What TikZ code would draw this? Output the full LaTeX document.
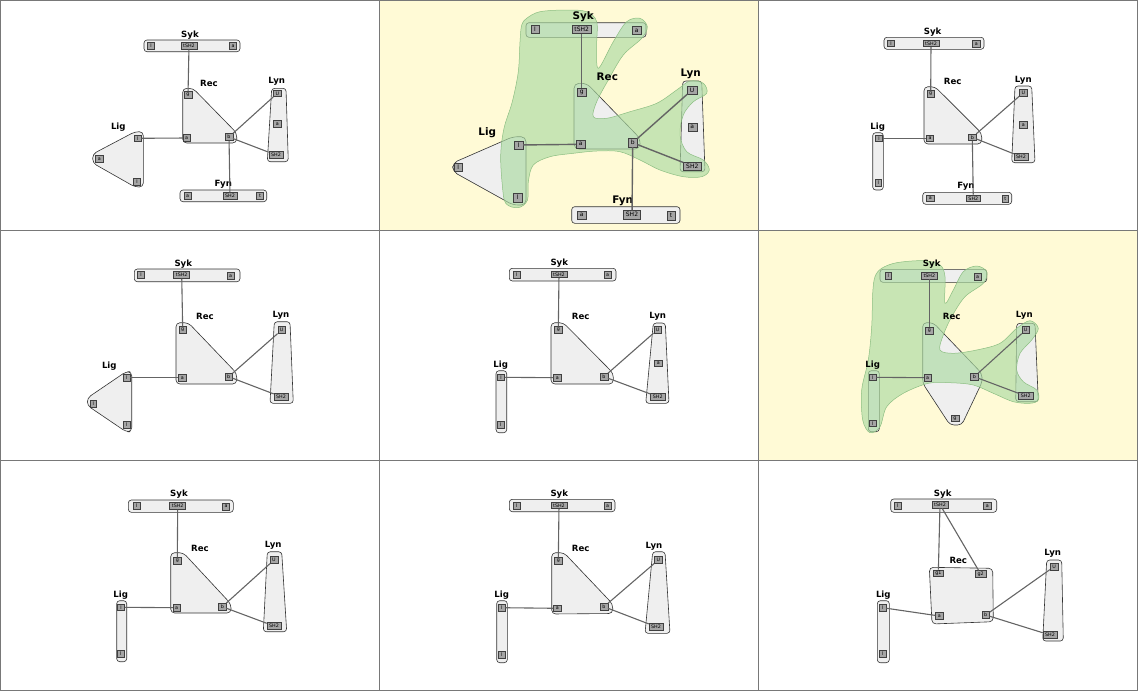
\documentclass[tikz,border=0pt]{standalone}
\usepackage{fontspec}
\setmainfont{DejaVu Sans}
\definecolor{cream}{RGB}{255,250,214}
\definecolor{blobc}{RGB}{171,219,162}
\definecolor{blobl}{RGB}{140,190,130}
\definecolor{molf}{RGB}{239,239,239}
\definecolor{sitef}{RGB}{165,165,165}
\definecolor{gridc}{RGB}{120,120,120}
\definecolor{bondc}{RGB}{100,100,100}
\tikzset{
 mol/.style={draw=black!80, fill=molf, line width=0.6pt, rounded corners=3pt, line join=round},
 site/.style={draw=black!75, fill=sitef, line width=0.45pt, font=\fontsize{4.8}{5}\selectfont, inner xsep=2.2pt, inner ysep=0.8pt, minimum height=6.8pt, minimum width=6.8pt},
 bsite/.style={site, font=\fontsize{6}{6}\selectfont, inner xsep=2.6pt, minimum height=8.2pt, minimum width=8.2pt},
 lbl/.style={font=\fontsize{8.6}{9}\selectfont\bfseries, inner sep=0pt},
 blbl/.style={font=\fontsize{10.4}{11}\selectfont\bfseries, inner sep=0pt},
 bond/.style={draw=bondc, line width=1.1pt},
 bbond/.style={draw=bondc, line width=1.4pt},
 blob/.style={fill=blobc, fill opacity=0.65, draw=blobl, line width=0.5pt},
}
\begin{document}
\begin{tikzpicture}[x=1pt,y=-1pt]
\useasboundingbox (0,0) rectangle (1138,691);
\fill[cream] (379,0) rectangle (758,230);
\fill[cream] (758,230) rectangle (1138,460);
\draw[gridc, line width=1pt] (379,0) -- (379,691) (758,0) -- (758,691) (0,230) -- (1138,230) (0,460) -- (1138,460);
\draw[gridc, line width=1pt] (0.5,0.5) rectangle (1137.5,690.5);

% ---------------- Panel 1 ----------------
\draw[mol] (144,40) rectangle (240,51.7);
\node[lbl] (a1syk) at (190,35) {Syk};
\node[site] (a1sl) at (151,45.8) {l};
\node[site] (a1st) at (189,45.8) {tSH2};
\node[site] (a1sa) at (233,45.8) {a};
\draw[mol, rounded corners=4pt] (182.7,88.3) -- (193,88.3) -- (236.7,133) -- (236.7,143) -- (182.7,143) -- cycle;
\node[lbl] (a1rec) at (209,83) {Rec};
\node[site] (a1rg) at (188,95) {g};
\node[site] (a1ra) at (186.7,138) {a};
\node[site] (a1rb) at (229,137) {b};
\draw[mol] (271.7,88.3) -- (286,88.3) -- (288.3,161.7) -- (267.3,161.7) -- cycle;
\node[lbl] (a1lyn) at (276.7,81.7) {Lyn};
\node[site] (a1yu) at (277.3,93.3) {U};
\node[site] (a1ya) at (277.3,124) {a};
\node[site] (a1ys) at (276,155) {SH2};
\draw[mol, rounded corners=4pt] (135,131.7) -- (143.3,131.7) -- (143.3,187) -- (135,187) -- (92.7,163) -- (92.7,154) -- cycle;
\node[lbl] (a1lig) at (118.3,126.7) {Lig};
\node[site] (a1l1) at (137.7,138.3) {l};
\node[site] (a1l2) at (99.3,159) {a};
\node[site] (a1l3) at (137,181.7) {l};
\draw[mol] (180,190) rectangle (266.7,201.7);
\node[site] (a1fa) at (187.7,196) {a};
\node[site] (a1fs) at (230,196) {SH2};
\node[site] (a1ft) at (260,196) {t};
\node[lbl] (a1fyn) at (223.3,184.3) {Fyn};
\draw[bond] (a1st) -- (a1rg);
\draw[bond] (a1l1) -- (a1ra);
\draw[bond] (a1rb) -- (a1yu);
\draw[bond] (a1rb) -- (a1ys);
\draw[bond] (a1rb) -- (a1fs);

% ---------------- Panel 2 ----------------
\draw[mol] (526,22.7) rectangle (646,37.3);
\draw[mol, rounded corners=5pt] (574,83.3) -- (586.7,83.3) -- (640,138.3) -- (640,149) -- (574,149) -- cycle;
\draw[mol] (682.7,81) -- (701.7,81) -- (705,171.7) -- (680,171.7) -- cycle;
\draw[mol, rounded corners=5pt] (513,136.7) -- (526,136.7) -- (526,205) -- (513,205) -- (452.7,171.5) -- (452.7,163) -- cycle;
\draw[mol] (571.7,206.7) rectangle (680,223.3);
\draw[blob] plot[smooth cycle, tension=0.55] coordinates {
 (526.7,18.3) (540,11.7) (566.7,10) (586.7,11.7) (596.7,21.7) (596.7,45) (598.3,68.3)
 (613.3,41.7) (626.7,21.7) (640,18.3) (647.3,26.7) (641.7,38.3) (623.3,55) (608.3,80)
 (596.7,101.7) (593.3,116.7) (606.7,118.3) (630,111.7) (656.7,103.3) (676.7,90) (690,81)
 (703.3,83.3) (706.7,93.3) (693.3,101.7) (683.3,115) (680,135) (686.7,151.7) (703.3,160)
 (709.3,170) (701.7,176.7) (683.3,176.7) (660,170) (640,160) (620,151.7) (596.7,151)
 (573.3,153.3) (550,156.7) (533.3,165) (528.3,181.7) (527.5,200) (518.3,207.7) (505.7,203.3)
 (502.3,185) (500.7,155) (504,128.3) (512.3,101.7) (518.3,71.7) (520,41.7) (521.7,25)};
\node[bsite] (a2sl) at (535,29.5) {l};
\node[bsite] (a2st) at (581.7,29.5) {tSH2};
\node[bsite] (a2sa) at (636.7,30.5) {a};
\node[bsite] (a2rg) at (581.7,92.3) {g};
\node[bsite] (a2ra) at (580.7,144.3) {a};
\node[bsite] (a2rb) at (632.7,142.7) {b};
\node[bsite] (a2yu) at (692,90) {U};
\node[bsite] (a2ya) at (692.3,127.3) {a};
\node[bsite] (a2ys) at (692.3,166) {SH2};
\node[bsite] (a2l1) at (518.7,145) {l};
\node[bsite] (a2l2) at (458.3,167.3) {l};
\node[bsite] (a2l3) at (517.7,197.7) {l};
\node[bsite] (a2fa) at (581.7,215) {a};
\node[bsite] (a2fs) at (632,214.8) {SH2};
\node[bsite] (a2ft) at (671,215.7) {t};
\node[blbl] (a2syk) at (583.3,16.7) {Syk};
\node[blbl] (a2rec) at (607.3,76.7) {Rec};
\node[blbl] (a2lyn) at (690.7,74.3) {Lyn};
\node[blbl] (a2lig) at (487.3,132.7) {Lig};
\node[blbl] (a2fyn) at (622.7,201) {Fyn};
\draw[bbond] (a2st) -- (a2rg);
\draw[bbond] (a2l1) -- (a2ra);
\draw[bbond] (a2rb) -- (a2yu);
\draw[bbond] (a2rb) -- (a2ys);
\draw[bbond] (a2rb) -- (a2fs);

% ---------------- Panel 3 ----------------
\draw[mol] (884,37.3) rectangle (984,49.3);
\node[lbl] (a3syk) at (932.7,31.7) {Syk};
\node[site] (a3sl) at (891,43.3) {l};
\node[site] (a3st) at (931,43.3) {tSH2};
\node[site] (a3sa) at (976.3,44) {a};
\draw[mol, rounded corners=4pt] (924,86.7) -- (935,86.7) -- (981.7,133.3) -- (981.7,144) -- (924,144) -- cycle;
\node[lbl] (a3rec) at (952.7,81.7) {Rec};
\node[site] (a3rg) at (930.7,94) {g};
\node[site] (a3ra) at (930,138.3) {a};
\node[site] (a3rb) at (972.3,137.3) {b};
\draw[mol] (1015,86) -- (1031.7,86) -- (1035,162.7) -- (1011.7,162.7) -- cycle;
\node[lbl] (a3lyn) at (1023.3,80) {Lyn};
\node[site] (a3yu) at (1023.3,92.7) {U};
\node[site] (a3ya) at (1023.3,125) {a};
\node[site] (a3ys) at (1021,156.7) {SH2};
\draw[mol] (872.7,132.7) rectangle (883.3,190);
\node[lbl] (a3lig) at (877.7,127) {Lig};
\node[site] (a3l1) at (879,138.3) {l};
\node[site] (a3l2) at (878.3,182.7) {l};
\draw[mol] (922.7,192.3) rectangle (1011.7,204.3);
\node[site] (a3fa) at (930.3,198.3) {a};
\node[site] (a3fs) at (973.3,198.3) {SH2};
\node[site] (a3ft) at (1005.3,198.5) {t};
\node[lbl] (a3fyn) at (966,186) {Fyn};
\draw[bond] (a3st) -- (a3rg);
\draw[bond] (a3l1) -- (a3ra);
\draw[bond] (a3rb) -- (a3yu);
\draw[bond] (a3rb) -- (a3ys);
\draw[bond] (a3rb) -- (a3fs);

% ---------------- Panel 4 ----------------
\draw[mol] (134.3,269) rectangle (240,281.7);
\node[lbl] (a4syk) at (183.3,264) {Syk};
\node[site] (a4sl) at (141,275) {l};
\node[site] (a4st) at (181.7,275) {tSH2};
\node[site] (a4sa) at (230.7,276) {a};
\draw[mol, rounded corners=4pt] (176,322.7) -- (188.3,322.7) -- (236.7,373.3) -- (236.7,384) -- (176,384) -- cycle;
\node[lbl] (a4rec) at (205,316.7) {Rec};
\node[site] (a4rg) at (182.7,330) {g};
\node[site] (a4ra) at (182.3,377.7) {a};
\node[site] (a4rb) at (228.7,376.7) {b};
\draw[mol] (274.3,321.7) -- (290,321.7) -- (293.3,403.3) -- (270,403.3) -- cycle;
\node[lbl] (a4lyn) at (281,315) {Lyn};
\node[site] (a4yu) at (281.7,330) {U};
\node[site] (a4ys) at (281,396.7) {SH2};
\draw[mol, rounded corners=4pt] (126,371.7) -- (131.7,371.7) -- (131.7,431.7) -- (126,431.7) -- (87.3,405.5) -- (87.3,398) -- cycle;
\node[lbl] (a4lig) at (109.3,366) {Lig};
\node[site] (a4l1) at (126.7,377.7) {l};
\node[site] (a4l2) at (93.3,404) {l};
\node[site] (a4l3) at (126.7,425) {l};
\draw[bond] (a4st) -- (a4rg);
\draw[bond] (a4l1) -- (a4ra);
\draw[bond] (a4rb) -- (a4yu);
\draw[bond] (a4rb) -- (a4ys);

% ---------------- Panel 5 ----------------
\draw[mol] (509.3,268.3) rectangle (616,281);
\node[lbl] (a5syk) at (559.3,262.7) {Syk};
\node[site] (a5sl) at (516.7,274.5) {l};
\node[site] (a5st) at (559,274.3) {tSH2};
\node[site] (a5sa) at (607.7,275) {a};
\draw[mol, rounded corners=4pt] (551,322.7) -- (563.3,322.7) -- (613.3,373.3) -- (613.3,384) -- (551,384) -- cycle;
\node[lbl] (a5rec) at (580.7,316.7) {Rec};
\node[site] (a5rg) at (558.3,330) {g};
\node[site] (a5ra) at (557.3,377.7) {a};
\node[site] (a5rb) at (604,376.7) {b};
\draw[mol] (653.3,323) -- (665.3,323) -- (669,403.3) -- (645.7,403.3) -- cycle;
\node[lbl] (a5lyn) at (657.7,316.7) {Lyn};
\node[site] (a5yu) at (657.7,329.5) {U};
\node[site] (a5ya) at (658.3,363.3) {a};
\node[site] (a5ys) at (657.7,396.7) {SH2};
\draw[mol] (496,370.7) rectangle (506.7,432.7);
\node[lbl] (a5lig) at (500.7,365) {Lig};
\node[site] (a5l1) at (501,377.3) {l};
\node[site] (a5l2) at (500.7,425) {l};
\draw[bond] (a5st) -- (a5rg);
\draw[bond] (a5l1) -- (a5ra);
\draw[bond] (a5rb) -- (a5yu);
\draw[bond] (a5rb) -- (a5ys);

% ---------------- Panel 6 ----------------
\draw[mol] (880,269.3) rectangle (986.7,282.3);
\draw[mol, rounded corners=4pt] (922.7,322.7) -- (933.3,322.7) -- (981.7,373.3) -- (982.3,381.7) -- (961.7,425) -- (950,425) -- (922.7,383.3) -- cycle;
\draw[mol] (1016.7,323.3) -- (1035,323.3) -- (1038.3,401.7) -- (1015.7,401.7) -- cycle;
\draw[mol] (868.3,370.7) rectangle (879.3,431.7);
\draw[blob] plot[smooth cycle, tension=0.55] coordinates {
 (881.7,268.3) (896.7,262.7) (923.3,260.7) (940,265) (945,276.7) (945,303.3) (953.3,290)
 (963.3,271.7) (976.7,266) (986.7,271.7) (983.3,283.3) (965,296.7) (951.7,316.7) (943.3,335)
 (940,350) (953.3,353.3) (976.7,350) (1000,343.3) (1016.7,328.3) (1030,320.7) (1038.3,328.3)
 (1031.7,340) (1020,353.3) (1016.7,370) (1023.3,381.7) (1036.7,390) (1038.3,400) (1030,403.3)
 (1013.3,401.7) (993.3,393.3) (973.3,385) (950,382.7) (928.3,383.3) (903.3,393.3) (886.7,406.7)
 (880,426.7) (870,432.7) (862.7,420) (861.7,390) (868.3,360) (871.7,326.7) (872.7,293.3) (875,276.7)};
\node[site] (a6sl) at (888.3,275.7) {l};
\node[site] (a6st) at (929.3,275.5) {tSH2};
\node[site] (a6sa) at (977.7,276.7) {a};
\node[site] (a6rg) at (929.3,331) {g};
\node[site] (a6ra) at (927.7,377.7) {a};
\node[site] (a6rb) at (974.3,376.7) {b};
\node[site] (a6rg2) at (955,418.3) {g};
\node[site] (a6yu) at (1025.7,330) {U};
\node[site] (a6ys) at (1025.7,396) {SH2};
\node[site] (a6l1) at (872.7,377.3) {l};
\node[site] (a6l2) at (872.7,423.3) {l};
\node[lbl] (a6syk) at (931.7,264.5) {Syk};
\node[lbl] (a6rec) at (951.7,316.7) {Rec};
\node[lbl] (a6lyn) at (1024.3,315) {Lyn};
\node[lbl] (a6lig) at (872.7,365) {Lig};
\draw[bond] (a6st) -- (a6rg);
\draw[bond] (a6l1) -- (a6ra);
\draw[bond] (a6rb) -- (a6yu);
\draw[bond] (a6rb) -- (a6ys);

% ---------------- Panel 7 ----------------
\draw[mol] (128.3,500) rectangle (233.3,512.3);
\node[lbl] (a7syk) at (179,494.5) {Syk};
\node[site] (a7sl) at (136.7,505.9) {l};
\node[site] (a7st) at (177.7,505.9) {tSH2};
\node[site] (a7sa) at (226,506.5) {a};
\draw[mol, rounded corners=4pt] (170.7,552.7) -- (183.3,552.7) -- (231,604) -- (231,613) -- (170.7,613) -- cycle;
\node[lbl] (a7rec) at (200,548.3) {Rec};
\node[site] (a7rg) at (177.3,561) {g};
\node[site] (a7ra) at (176.7,607.7) {a};
\node[site] (a7rb) at (222.3,606.7) {b};
\draw[mol] (267.3,551.7) -- (281.7,551.7) -- (286.7,631.7) -- (263.3,631.7) -- cycle;
\node[lbl] (a7lyn) at (273.3,545.7) {Lyn};
\node[site] (a7yu) at (274,560) {U};
\node[site] (a7ys) at (274,626) {SH2};
\draw[mol] (116.7,600.7) rectangle (126.7,661.7);
\node[lbl] (a7lig) at (120.7,595) {Lig};
\node[site] (a7l1) at (121,607.3) {l};
\node[site] (a7l2) at (120.7,654) {l};
\draw[bond] (a7st) -- (a7rg);
\draw[bond] (a7l1) -- (a7ra);
\draw[bond] (a7rb) -- (a7yu);
\draw[bond] (a7rb) -- (a7ys);

% ---------------- Panel 8 ----------------
\draw[mol] (509.3,499.3) rectangle (615,511.7);
\node[lbl] (a8syk) at (559.3,494) {Syk};
\node[site] (a8sl) at (516.7,505.7) {l};
\node[site] (a8st) at (559,505.3) {tSH2};
\node[site] (a8sa) at (607.7,506) {a};
\draw[mol, rounded corners=4pt] (551.7,552.7) -- (564,552.7) -- (612.7,604) -- (612.7,613.5) -- (551.7,614) -- cycle;
\node[lbl] (a8rec) at (580.7,548.3) {Rec};
\node[site] (a8rg) at (558.3,561) {g};
\node[site] (a8ra) at (557.3,608.3) {a};
\node[site] (a8rb) at (604,606.7) {b};
\draw[mol] (652.7,551.7) -- (665,551.7) -- (670,633.3) -- (645,633.3) -- cycle;
\node[lbl] (a8lyn) at (654,546) {Lyn};
\node[site] (a8yu) at (658.3,560) {U};
\node[site] (a8ys) at (656,626.7) {SH2};
\draw[mol] (496.7,600.7) rectangle (507.3,662.7);
\node[lbl] (a8lig) at (501.7,595) {Lig};
\node[site] (a8l1) at (501.7,607.7) {l};
\node[site] (a8l2) at (501.7,655) {l};
\draw[bond] (a8st) -- (a8rg);
\draw[bond] (a8l1) -- (a8ra);
\draw[bond] (a8rb) -- (a8yu);
\draw[bond] (a8rb) -- (a8ys);

% ---------------- Panel 9 ----------------
\draw[mol] (890.7,499) rectangle (996.7,512.3);
\node[lbl] (a9syk) at (942.7,494) {Syk};
\node[site] (a9sl) at (897.7,505.7) {l};
\node[site] (a9st) at (940,504.7) {tSH2};
\node[site] (a9sa) at (987.3,505.7) {a};
\draw[mol, rounded corners=4pt] (929.3,567.3) -- (992.7,568.3) -- (993.3,621.7) -- (932,624) -- cycle;
\node[lbl] (a9rec) at (958.3,560.7) {Rec};
\node[site] (a9g1) at (938.3,573.3) {g1};
\node[site] (a9g2) at (980.7,574) {g2};
\node[site] (a9ra) at (939.3,616) {a};
\node[site] (a9rb) at (985.7,615) {b};
\draw[mol] (1046.7,560) -- (1061.7,560) -- (1063.3,641) -- (1042.7,641) -- cycle;
\node[lbl] (a9lyn) at (1052.7,553.3) {Lyn};
\node[site] (a9yu) at (1054,566.7) {U};
\node[site] (a9ys) at (1050,635) {SH2};
\draw[mol] (877.3,600.7) rectangle (889.3,662.7);
\node[lbl] (a9lig) at (883.3,595) {Lig};
\node[site] (a9l1) at (882.7,607.7) {l};
\node[site] (a9l2) at (882.7,654) {l};
\draw[bond] (a9st) -- (a9g1);
\draw[bond] (a9st) -- (a9g2);
\draw[bond] (a9l1) -- (a9ra);
\draw[bond] (a9rb) -- (a9yu);
\draw[bond] (a9rb) -- (a9ys);
\end{tikzpicture}
\end{document}
